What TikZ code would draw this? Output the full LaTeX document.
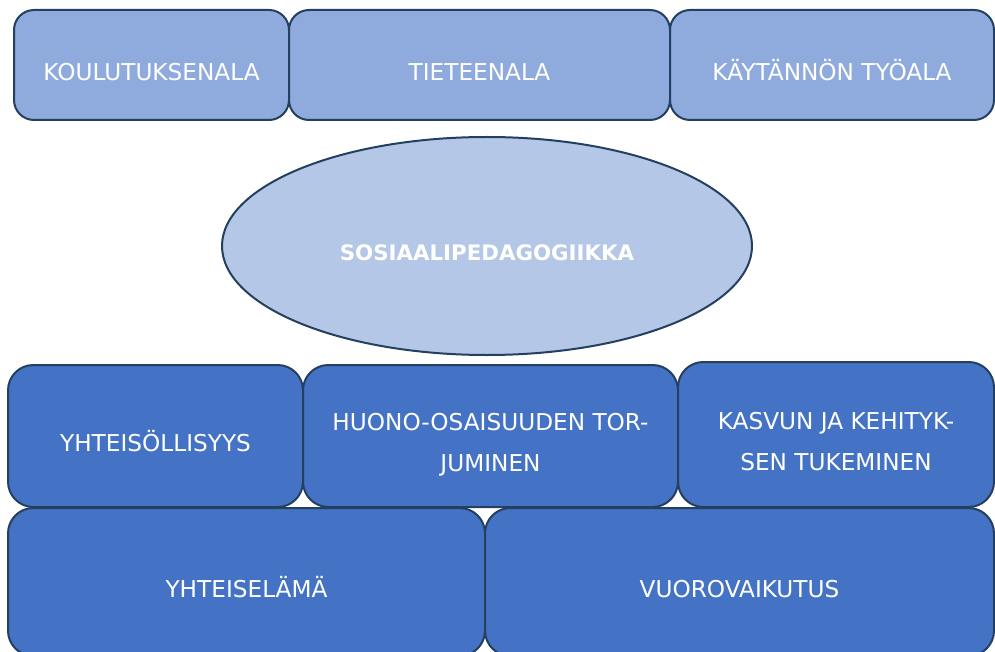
\documentclass[tikz,border=0pt]{standalone}
\usepackage{fontspec}
\setmainfont{DejaVu Sans}
\usetikzlibrary{shapes.geometric}
\definecolor{topfill}{HTML}{8FAADC}
\definecolor{ellfill}{HTML}{B4C7E7}
\definecolor{botfill}{HTML}{4472C4}
\definecolor{edge}{HTML}{24405E}
\tikzset{
  base/.style={draw=edge, line width=1.5pt, text=white, align=center,
    font=\fontsize{17.4}{30.75}\selectfont, inner sep=0pt,
    text height=22.7pt, text depth=0pt},
  two/.style={text height=53.45pt, text depth=0pt},
  topbox/.style={base, rectangle, rounded corners=15pt, fill=topfill, minimum height=82.5pt},
  midbox/.style={base, rectangle, rounded corners=19pt, fill=botfill},
  lowbox/.style={base, rectangle, rounded corners=19pt, fill=botfill, minimum height=111pt},
  ellnode/.style={base, ellipse, fill=ellfill, font=\fontsize{16}{20}\selectfont\bfseries,
    text height=21.7pt, minimum width=397.5pt, minimum height=163.5pt}
}
\begin{document}
\begin{tikzpicture}[x=0.75pt, y=-0.75pt]
\useasboundingbox (0,0) rectangle (995,652);
\clip (0,0) rectangle (995,652);
\node[topbox, minimum width=206.25pt] (kou) at (151.5,65) {KOULUTUKSENALA};
\node[topbox, minimum width=285.75pt] (tie) at (479.5,65) {TIETEENALA};
\node[topbox, minimum width=243pt] (kay) at (832,65) {KÄYTÄNNÖN TYÖALA};
\node[ellnode] (sos) at (487,246) {SOSIAALIPEDAGOGIIKKA};
\node[midbox, minimum width=221.25pt, minimum height=106.5pt] (yht) at (155.5,436) {YHTEISÖLLISYYS};
\node[midbox, two, minimum width=281.25pt, minimum height=106.5pt] (huo) at (490.5,436) {HUONO-OSAISUUDEN TOR-\\JUMINEN};
\node[midbox, two, minimum width=237pt, minimum height=108.75pt] (kas) at (836,434.5) {KASVUN JA KEHITYK-\\SEN TUKEMINEN};
\node[lowbox, minimum width=357.75pt] (yel) at (246.5,582) {YHTEISELÄMÄ};
\node[lowbox, minimum width=381.75pt] (vuo) at (739.5,582) {VUOROVAIKUTUS};
\end{tikzpicture}
\end{document}
